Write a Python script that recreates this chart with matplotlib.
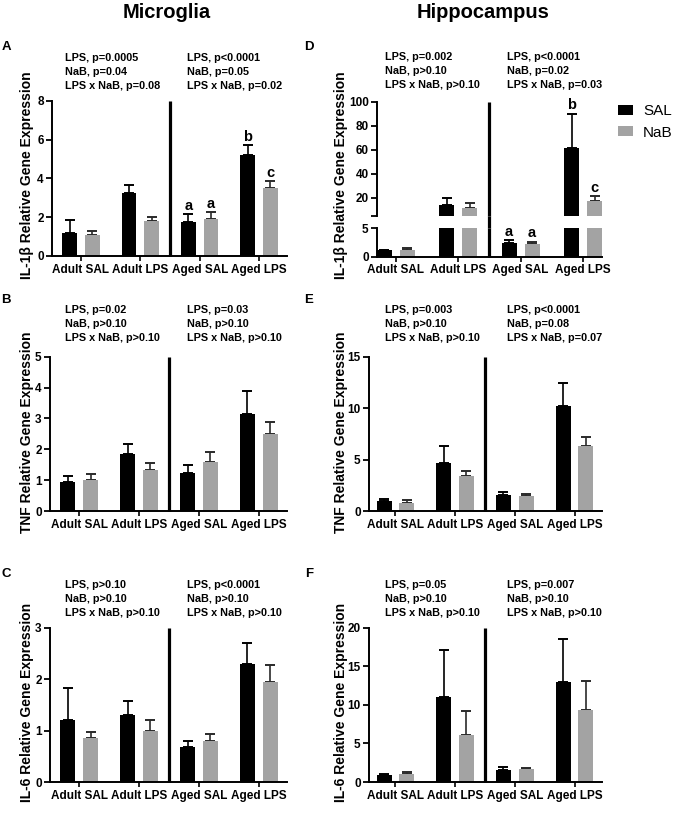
import matplotlib
matplotlib.use("Agg")
import matplotlib.pyplot as plt
import numpy as np
from matplotlib.patches import Patch
from matplotlib.transforms import blended_transform_factory

plt.rcParams['font.family'] = ['Liberation Sans', 'DejaVu Sans']

# ---------------- data ----------------
groups = ["Adult SAL", "Adult LPS", "Aged SAL", "Aged LPS"]

# A: IL-1b microglia
a_sal = [1.19, 3.27, 1.75, 5.21]
a_sal_err = [0.66, 0.40, 0.41, 0.50]
a_nab = [1.08, 1.81, 1.91, 3.51]
a_nab_err = [0.22, 0.22, 0.34, 0.33]
# B: TNF microglia
b_sal = [0.95, 1.84, 1.22, 3.13]
b_sal_err = [0.17, 0.32, 0.27, 0.75]
b_nab = [1.00, 1.34, 1.60, 2.49]
b_nab_err = [0.21, 0.23, 0.30, 0.38]
# C: IL-6 microglia
c_sal = [1.21, 1.30, 0.69, 2.30]
c_sal_err = [0.61, 0.27, 0.11, 0.40]
c_nab = [0.85, 0.99, 0.79, 1.95]
c_nab_err = [0.12, 0.21, 0.14, 0.33]
# D: IL-1b hippocampus
d_sal = [1.10, 14.0, 2.45, 61.5]
d_sal_err = [0.15, 5.8, 0.50, 28.5]
d_nab = [1.25, 11.5, 2.30, 17.5]
d_nab_err = [0.27, 4.2, 0.35, 3.8]
# E: TNF hippocampus
e_sal = [1.00, 4.63, 1.59, 10.2]
e_sal_err = [0.13, 1.73, 0.29, 2.26]
e_nab = [0.81, 3.45, 1.48, 6.30]
e_nab_err = [0.23, 0.48, 0.22, 0.92]
# F: IL-6 hippocampus
f_sal = [0.95, 11.08, 1.60, 12.93]
f_sal_err = [0.12, 5.99, 0.38, 5.57]
f_nab = [1.10, 6.03, 1.64, 9.27]
f_nab_err = [0.20, 3.11, 0.13, 3.83]

stats_a = (["LPS, p=0.0005", "NaB, p=0.04", "LPS x NaB, p=0.08"],
           ["LPS, p<0.0001", "NaB, p=0.05", "LPS x NaB, p=0.02"])
stats_b = (["LPS, p=0.02", "NaB, p>0.10", "LPS x NaB, p>0.10"],
           ["LPS, p=0.03", "NaB, p>0.10", "LPS x NaB, p>0.10"])
stats_c = (["LPS, p>0.10", "NaB, p>0.10", "LPS x NaB, p>0.10"],
           ["LPS, p<0.0001", "NaB, p>0.10", "LPS x NaB, p>0.10"])
stats_d = (["LPS, p=0.002", "NaB, p>0.10", "LPS x NaB, p>0.10"],
           ["LPS, p<0.0001", "NaB, p=0.02", "LPS x NaB, p=0.03"])
stats_e = (["LPS, p=0.003", "NaB, p>0.10", "LPS x NaB, p>0.10"],
           ["LPS, p<0.0001", "NaB, p=0.08", "LPS x NaB, p=0.07"])
stats_f = (["LPS, p=0.05", "NaB, p>0.10", "LPS x NaB, p>0.10"],
           ["LPS, p=0.007", "NaB, p>0.10", "LPS x NaB, p>0.10"])

# ---------------- style ----------------
W, H = 676, 813
SAL_C = "black"
NAB_C = "#A3A3A3"
SPINE_LW = 1.4
DIV_LW = 2.3
TICK_FS = 8.5
STAT_FS = 7.8

fig = plt.figure(figsize=(W / 100, H / 100), dpi=100)


def rect(left, right, top, bottom):
    return [left / W, 1 - bottom / H, (right - left) / W, (bottom - top) / H]


def fx(x):
    return x / W


def fy(y):
    return 1 - y / H


def style(ax, xlim, ylim, yticks, bottom=True):
    ax.set_xlim(*xlim)
    ax.set_ylim(*ylim)
    for s in ("top", "right"):
        ax.spines[s].set_visible(False)
    ax.spines["left"].set_linewidth(SPINE_LW)
    ax.spines["bottom"].set_linewidth(SPINE_LW)
    ax.set_yticks(yticks)
    ax.tick_params(axis="y", length=4, width=1.3, labelsize=TICK_FS, pad=2)
    for lab in ax.get_yticklabels():
        lab.set_fontweight("bold")
    if bottom:
        ax.set_xticks(np.arange(len(groups)))
        ax.set_xticklabels(groups, fontsize=TICK_FS, fontweight="bold")
        ax.tick_params(axis="x", length=3.5, width=1.2, pad=2)
    else:
        ax.spines["bottom"].set_visible(False)
        ax.set_xticks([])


def bars(ax, sal, sal_err, nab, nab_err, off=0.19, width=0.25):
    x = np.arange(len(groups))
    ax.bar(x - off, sal, width, color=SAL_C, zorder=2)
    ax.bar(x + off, nab, width, color=NAB_C, zorder=2)
    z = np.zeros(len(groups))
    ax.errorbar(x - off, sal, yerr=[z, sal_err], fmt="none", ecolor="black",
                elinewidth=1.2, capsize=3.6, capthick=1.4, zorder=1)
    ax.errorbar(x + off, nab, yerr=[z, nab_err], fmt="none", ecolor="#2a2a2a",
                elinewidth=1.2, capsize=3.6, capthick=1.4, zorder=1)


def letter(ax, x, top, txt):
    ax.annotate(txt, (x, top), xytext=(0, 1), textcoords="offset points",
                ha="center", va="bottom", fontsize=10.5, fontweight="bold",
                annotation_clip=False)


def stats(lines, xl, xr, y0):
    left, right = lines
    for i, (l, r) in enumerate(zip(left, right)):
        fig.text(fx(xl), fy(y0 + 14 * i), l, fontsize=STAT_FS, fontweight="bold",
                 ha="left", va="center")
        fig.text(fx(xr), fy(y0 + 14 * i), r, fontsize=STAT_FS, fontweight="bold",
                 ha="left", va="center")


def simple_panel(rc, xlim, ymax, yticks, sal, sal_err, nab, nab_err):
    ax = fig.add_axes(rc)
    bars(ax, sal, sal_err, nab, nab_err)
    style(ax, xlim, (0, ymax), yticks)
    ax.plot([1.5, 1.5], [0, ymax], color="black", lw=DIV_LW, clip_on=False,
            solid_capstyle="butt", zorder=3)
    return ax


LX = (-0.487, 3.47)
RX = (-0.443, 3.46)

# A
axA = simple_panel(rect(52, 287, 100.7, 256), LX, 8, [0, 2, 4, 6, 8],
                   a_sal, a_sal_err, a_nab, a_nab_err)
letter(axA, 2 - 0.19, a_sal[2] + a_sal_err[2], "a")
letter(axA, 2 + 0.19, a_nab[2] + a_nab_err[2], "a")
letter(axA, 3 - 0.19, a_sal[3] + a_sal_err[3], "b")
letter(axA, 3 + 0.19, a_nab[3] + a_nab_err[3], "c")

# B
axB = simple_panel(rect(50, 287, 356.7, 511), LX, 5, [0, 1, 2, 3, 4, 5],
                   b_sal, b_sal_err, b_nab, b_nab_err)
# C
axC = simple_panel(rect(50, 287, 627.7, 782), LX, 3, [0, 1, 2, 3],
                   c_sal, c_sal_err, c_nab, c_nab_err)
# E
axE = simple_panel(rect(369, 602, 356.7, 511), RX, 15, [0, 5, 10, 15],
                   e_sal, e_sal_err, e_nab, e_nab_err)
# F
axF = simple_panel(rect(369, 602, 627.7, 782), RX, 20, [0, 5, 10, 15, 20],
                   f_sal, f_sal_err, f_nab, f_nab_err)

# D (broken axis)
DX = (-0.296, 3.30)
axDl = fig.add_axes(rect(377, 602, 228.3, 256.7))
axDu = fig.add_axes(rect(377, 602, 101.7, 216))
for ax in (axDl, axDu):
    bars(ax, d_sal, d_sal_err, d_nab, d_nab_err, off=0.184, width=0.24)
style(axDl, DX, (0, 5), [0, 5])
style(axDu, DX, (5, 100), [5, 20, 40, 60, 80, 100], bottom=False)
axDu.set_yticklabels(["", "20", "40", "60", "80", "100"])
for lab in axDu.get_yticklabels():
    lab.set_fontweight("bold")
axDl.plot([1.5, 1.5], [0, 5], color="black", lw=DIV_LW, clip_on=False,
          solid_capstyle="butt", zorder=3)
axDu.plot([1.5, 1.5], [5, 100], color="black", lw=DIV_LW, clip_on=False,
          solid_capstyle="butt", zorder=3)
tr = blended_transform_factory(axDu.transData, fig.transFigure)
fig.lines.append(plt.Line2D([1.5, 1.5], [fy(228.3), fy(216)], transform=tr,
                            color="black", lw=DIV_LW, solid_capstyle="butt"))
letter(axDl, 2 - 0.184, d_sal[2] + d_sal_err[2], "a")
letter(axDl, 2 + 0.184, d_nab[2] + d_nab_err[2], "a")
letter(axDu, 3 - 0.184, d_sal[3] + d_sal_err[3], "b")
letter(axDu, 3 + 0.184, d_nab[3] + d_nab_err[3], "c")

# y labels
YL_FS = 10
ylabs = [("IL-1\u03b2 Relative Gene Expression", 175),
         ("TNF Relative Gene Expression", 432),
         ("IL-6 Relative Gene Expression", 702)]
for txt, yc in ylabs:
    for xc in (27, 341):
        fig.text(fx(xc), fy(yc), txt, rotation=90, ha="center", va="center",
                 fontsize=YL_FS, fontweight="bold")

# stats text
stats(stats_a, 65, 187, 58)
stats(stats_b, 65, 187, 310)
stats(stats_c, 65, 187, 585)
stats(stats_d, 385, 507, 57)
stats(stats_e, 385, 507, 310)
stats(stats_f, 385, 507, 585)

# panel letters
for t, x, y in [("A", 6, 47), ("B", 6, 300), ("C", 6, 574),
                ("D", 309, 47), ("E", 309, 300), ("F", 309, 574)]:
    fig.text(fx(x), fy(y), t, fontsize=9.5, fontweight="bold", ha="center", va="center")

# titles
fig.text(fx(167), fy(13), "Microglia", fontsize=14.5, fontweight="bold", ha="center", va="center")
fig.text(fx(483), fy(13), "Hippocampus", fontsize=14.5, fontweight="bold", ha="center", va="center")

# legend
handles = [Patch(facecolor=SAL_C, edgecolor="none"), Patch(facecolor=NAB_C, edgecolor="none")]
fig.legend(handles, ["SAL", "NaB"], loc="upper left", bbox_to_anchor=(fx(618), fy(104)),
           frameon=False, fontsize=11, handlelength=0.95, handleheight=0.65,
           handletextpad=0.7, labelspacing=0.5, borderaxespad=0, borderpad=0)

fig.savefig("out.png", dpi=100)
